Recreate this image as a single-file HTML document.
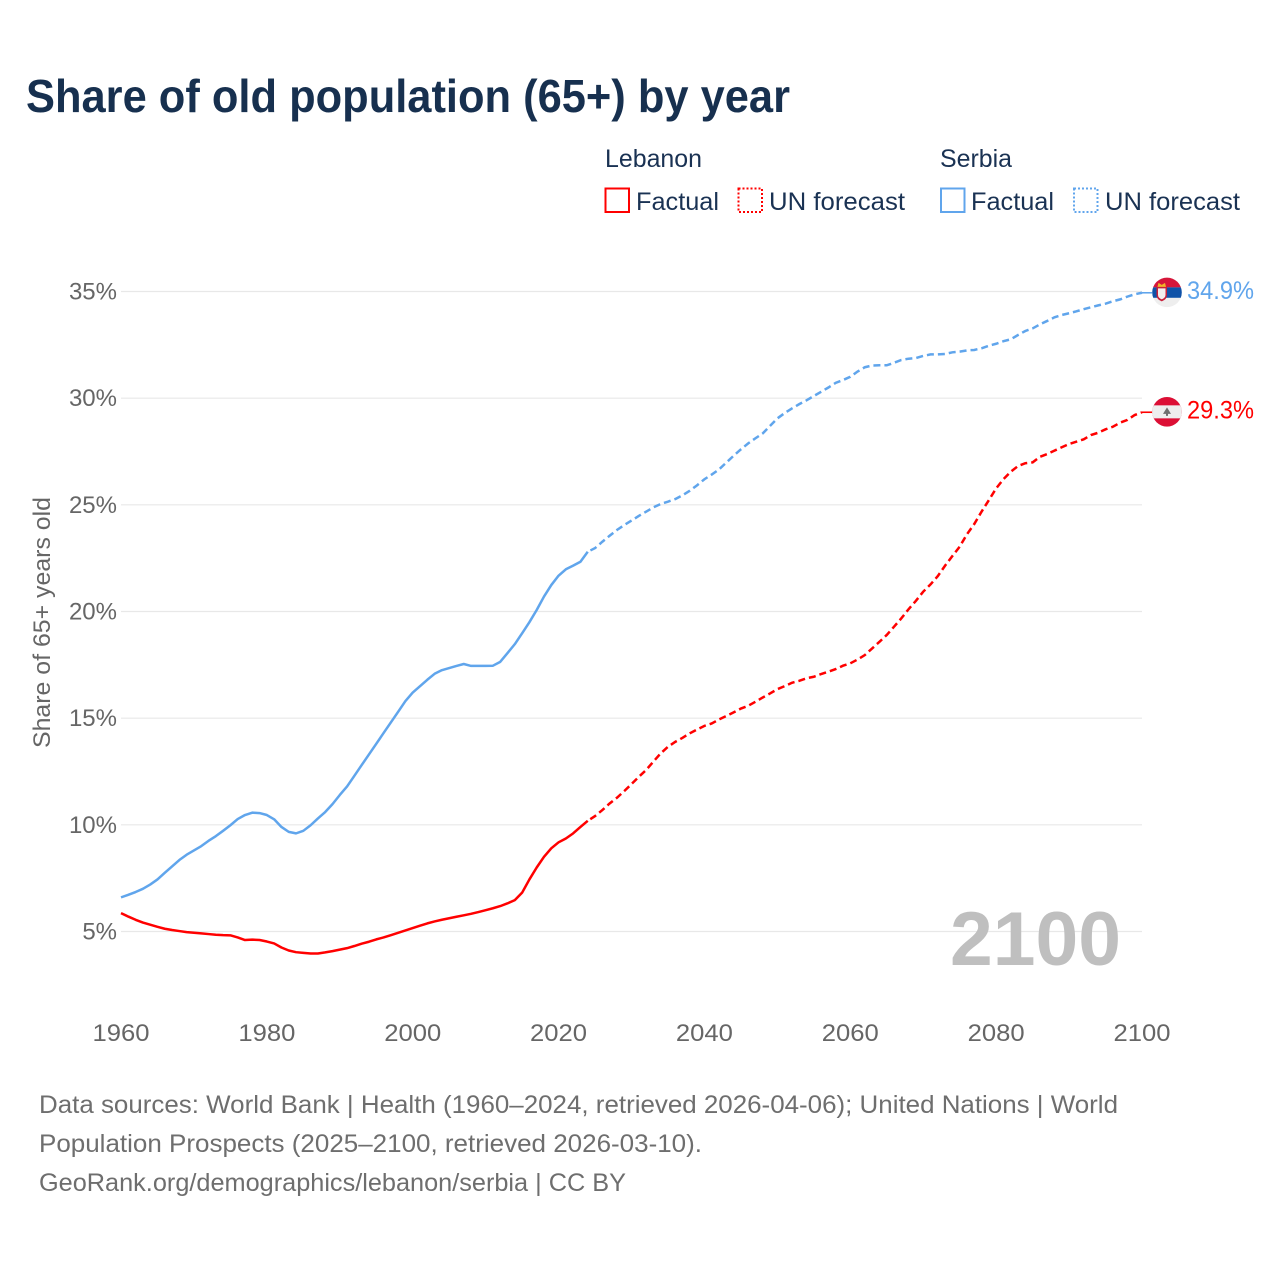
<!DOCTYPE html>
<html lang="en">
<head>
<meta charset="utf-8">
<title>Share of old population (65+) by year</title>
<style>
html,body{margin:0;padding:0;background:#fff;width:1280px;height:1280px;overflow:hidden}
svg{display:block;font-family:"Liberation Sans",Arial,sans-serif}
</style>
</head>
<body>
<svg id="chart" xmlns="http://www.w3.org/2000/svg" width="1280" height="1280" viewBox="0 0 1280 1280">
  <rect width="1280" height="1280" fill="#fff"/>
  <text x="26" y="112" font-size="46" font-weight="700" fill="#17304f" textLength="764" lengthAdjust="spacingAndGlyphs">Share of old population (65+) by year</text>

  <g font-size="25" fill="#1a3253">
    <text x="605" y="167" textLength="97" lengthAdjust="spacingAndGlyphs">Lebanon</text>
    <text x="940" y="167" textLength="72" lengthAdjust="spacingAndGlyphs">Serbia</text>
    <rect x="605.5" y="188.5" width="23.5" height="23.5" fill="none" stroke="#ff0000" stroke-width="2"/>
    <text x="636" y="210" textLength="83" lengthAdjust="spacingAndGlyphs">Factual</text>
    <rect x="738.5" y="188.5" width="23.5" height="23.5" fill="none" stroke="#ff0000" stroke-width="2" stroke-dasharray="2 2"/>
    <text x="769" y="210" textLength="136" lengthAdjust="spacingAndGlyphs">UN forecast</text>
    <rect x="941" y="188.5" width="23.5" height="23.5" fill="none" stroke="#60a5ec" stroke-width="2"/>
    <text x="971" y="210" textLength="83" lengthAdjust="spacingAndGlyphs">Factual</text>
    <rect x="1074" y="188.5" width="23.5" height="23.5" fill="none" stroke="#60a5ec" stroke-width="2" stroke-dasharray="2 2"/>
    <text x="1105" y="210" textLength="135" lengthAdjust="spacingAndGlyphs">UN forecast</text>
  </g>

  <g id="grid"></g>
  <g id="y-ticks" font-size="24" fill="#666"></g>
  <g id="x-ticks" font-size="24" fill="#666"></g>

  <text transform="translate(50 748) rotate(-90)" font-size="24" fill="#666" textLength="251" lengthAdjust="spacingAndGlyphs">Share of 65+ years old</text>

  <text x="950" y="965" font-size="76" font-weight="700" fill="#bfbfbf" textLength="171" lengthAdjust="spacingAndGlyphs">2100</text>

  <g id="series"></g>

  <g id="flag-serbia">
    <clipPath id="clip-serbia"><circle cx="0" cy="0" r="14.8"/></clipPath>
    <g clip-path="url(#clip-serbia)">
      <rect x="-15" y="-15" width="30" height="10" fill="#d6163a"/>
      <rect x="-15" y="-5" width="30" height="10.5" fill="#0f52a8"/>
      <rect x="-15" y="5.5" width="30" height="10" fill="#eeeeee"/>
      <path d="M-10.5 -5.5 h10.5 v8 q0 4.5 -5.25 6.5 q-5.25 -2 -5.25 -6.5 z" fill="#c8203a"/>
      <path d="M-9 -4 h7.5 v6.5 q0 3 -3.75 4.5 q-3.75 -1.5 -3.75 -4.5 z" fill="#f2eeee"/>
      <path d="M-9.5 -5.5 l1 -4 l3.25 2 l3.25 -2 l1 4 z" fill="#f0b429"/>
    </g>
  </g>
  <g id="flag-lebanon">
    <clipPath id="clip-lebanon"><circle cx="0" cy="0" r="14.8"/></clipPath>
    <g clip-path="url(#clip-lebanon)">
      <rect x="-15" y="-15" width="30" height="30" fill="#dc0f35"/>
      <rect x="-15" y="-6.5" width="30" height="13" fill="#eeeeee"/>
      <path d="M0 -4.5 L4 2 H1 V4 H-1 V2 H-4 Z" fill="#6f6f6f"/>
    </g>
  </g>
  <text id="label-serbia" x="1187" font-size="25" fill="#60a5ec" textLength="67" lengthAdjust="spacingAndGlyphs"></text>
  <text id="label-lebanon" x="1187" font-size="25" fill="#ff0000" textLength="67" lengthAdjust="spacingAndGlyphs"></text>

  <g font-size="25" fill="#6e6e6e">
    <text x="39" y="1113" textLength="1079" lengthAdjust="spacingAndGlyphs">Data sources: World Bank | Health (1960–2024, retrieved 2026-04-06); United Nations | World</text>
    <text x="39" y="1152" textLength="663" lengthAdjust="spacingAndGlyphs">Population Prospects (2025–2100, retrieved 2026-03-10).</text>
    <text x="39" y="1191" textLength="587" lengthAdjust="spacingAndGlyphs">GeoRank.org/demographics/lebanon/serbia | CC BY</text>
  </g>
</svg>
<script>
const yTickValues = [5, 10, 15, 20, 25, 30, 35];
const yTickLabels = ["5%", "10%", "15%", "20%", "25%", "30%", "35%"];
const xTickValues = [1960, 1980, 2000, 2020, 2040, 2060, 2080, 2100];
const xTickLabels = ["1960", "1980", "2000", "2020", "2040", "2060", "2080", "2100"];
const firstYear = 1960;
const lastFactualYear = 2024;
const serbiaValues = [
  6.6,6.72,6.85,7.0,7.2,7.44,7.75,8.05,8.35,8.6,
  8.8,9.0,9.25,9.47,9.72,9.98,10.27,10.46,10.57,10.55,
  10.46,10.26,9.9,9.67,9.6,9.72,9.98,10.3,10.6,10.97,
  11.4,11.8,12.3,12.8,13.3,13.8,14.3,14.8,15.3,15.8,
  16.2,16.5,16.8,17.08,17.25,17.35,17.45,17.54,17.45,17.45,
  17.45,17.46,17.64,18.05,18.47,18.98,19.5,20.07,20.7,21.24,
  21.68,21.98,22.15,22.33,22.8,22.97,23.27,23.55,23.82,24.05,
  24.26,24.48,24.68,24.88,25.04,25.15,25.27,25.45,25.66,25.92,
  26.2,26.42,26.66,26.98,27.3,27.6,27.88,28.12,28.35,28.7,
  29.05,29.3,29.52,29.72,29.9,30.1,30.3,30.5,30.72,30.85,
  31.0,31.25,31.45,31.53,31.54,31.54,31.66,31.79,31.85,31.88,
  31.98,32.05,32.05,32.07,32.15,32.18,32.24,32.26,32.34,32.46,
  32.55,32.67,32.76,32.96,33.15,33.27,33.46,33.62,33.79,33.9,
  33.98,34.07,34.17,34.26,34.35,34.43,34.54,34.63,34.76,34.87,34.94
];
const lebanonValues = [
  5.86,5.7,5.55,5.42,5.32,5.22,5.13,5.07,5.02,4.97,
  4.94,4.91,4.88,4.85,4.83,4.82,4.72,4.6,4.62,4.6,
  4.53,4.44,4.25,4.11,4.03,4.0,3.97,3.97,4.02,4.08,
  4.15,4.22,4.32,4.43,4.52,4.63,4.72,4.83,4.94,5.05,
  5.16,5.27,5.38,5.47,5.55,5.62,5.69,5.76,5.83,5.91,
  6.0,6.09,6.19,6.32,6.47,6.82,7.44,8.0,8.5,8.9,
  9.18,9.36,9.6,9.9,10.19,10.41,10.69,11.0,11.27,11.58,
  11.91,12.25,12.57,12.96,13.35,13.66,13.89,14.08,14.29,14.47,
  14.64,14.75,14.94,15.1,15.27,15.45,15.58,15.77,15.97,16.16,
  16.36,16.5,16.66,16.75,16.87,16.94,17.07,17.18,17.3,17.46,
  17.57,17.75,17.96,18.27,18.58,18.9,19.29,19.68,20.11,20.5,
  20.93,21.27,21.66,22.15,22.6,23.04,23.62,24.1,24.68,25.22,
  25.77,26.2,26.55,26.82,26.95,26.99,27.25,27.38,27.54,27.7,
  27.85,27.96,28.07,28.27,28.38,28.54,28.66,28.85,28.98,29.21,29.34
];

const NS = "http://www.w3.org/2000/svg";
const xScale = year => 121 + (year - 1960) * (1142 - 121) / 140;
const yScale = value => 931.5 - (value - 5) * (931.5 - 291.5) / 30;
const byId = id => document.getElementById(id);
function svgEl(tag, parent) {
  const el = document.createElementNS(NS, tag);
  parent.appendChild(el);
  return el;
}

yTickValues.forEach((value, i) => {
  const line = svgEl("line", byId("grid"));
  
  
  line.setAttribute("x1", 121);
  line.setAttribute("x2", 1142);
  line.setAttribute("y1", yScale(value));
  line.setAttribute("y2", yScale(value));
  line.setAttribute("stroke", "#e8e8e8");
  line.setAttribute("stroke-width", 1.2);
  const label = svgEl("text", byId("y-ticks"));
  
  
  label.setAttribute("x", 117);
  label.setAttribute("y", yScale(value) + 8);
  label.setAttribute("text-anchor", "end");
  label.textContent = yTickLabels[i];
});

xTickValues.forEach((year, i) => {
  const label = svgEl("text", byId("x-ticks"));
  
  
  label.setAttribute("x", xScale(year) - 28.5);
  label.setAttribute("y", 1041);
  label.setAttribute("textLength", 57);
  label.setAttribute("lengthAdjust", "spacingAndGlyphs");
  label.textContent = xTickLabels[i];
});

function pathFor(values, startIndex, endIndex) {
  let d = "";
  for (let i = startIndex; i <= endIndex; i++) {
    d += (i === startIndex ? "M" : "L") + xScale(firstYear + i).toFixed(2) + " " + yScale(values[i]).toFixed(2);
  }
  return d;
}

function drawSeries(values, color, key) {
  const splitIndex = lastFactualYear - firstYear;
  const lastIndex = values.length - 1;
  const group = byId("series");

  const factual = svgEl("path", group);
  
  
  factual.setAttribute("d", pathFor(values, 0, splitIndex));
  factual.setAttribute("fill", "none");
  factual.setAttribute("stroke", color);
  factual.setAttribute("stroke-width", 2.5);
  factual.setAttribute("stroke-linejoin", "round");

  const forecast = svgEl("path", group);
  
  
  forecast.setAttribute("d", pathFor(values, splitIndex, lastIndex));
  forecast.setAttribute("fill", "none");
  forecast.setAttribute("stroke", color);
  forecast.setAttribute("stroke-width", 2.5);
  forecast.setAttribute("stroke-dasharray", "7 4");
  forecast.setAttribute("stroke-dashoffset", "-3");

  const endY = yScale(values[lastIndex]);
  const connector = svgEl("line", group);
  
  
  connector.setAttribute("x1", xScale(firstYear + lastIndex));
  connector.setAttribute("x2", 1152);
  connector.setAttribute("y1", endY);
  connector.setAttribute("y2", endY);
  connector.setAttribute("stroke", color);
  connector.setAttribute("stroke-width", 1.6);

  byId("flag-" + key).setAttribute("transform", "translate(1167 " + (endY - 0.4) + ")");
  const label = byId("label-" + key);
  label.setAttribute("y", endY + 6.4);
  label.textContent = (Math.floor(values[lastIndex] * 10) / 10).toFixed(1) + "%";
}

drawSeries(serbiaValues, "#60a5ec", "serbia");
drawSeries(lebanonValues, "#ff0000", "lebanon");
</script>
</body>
</html>
